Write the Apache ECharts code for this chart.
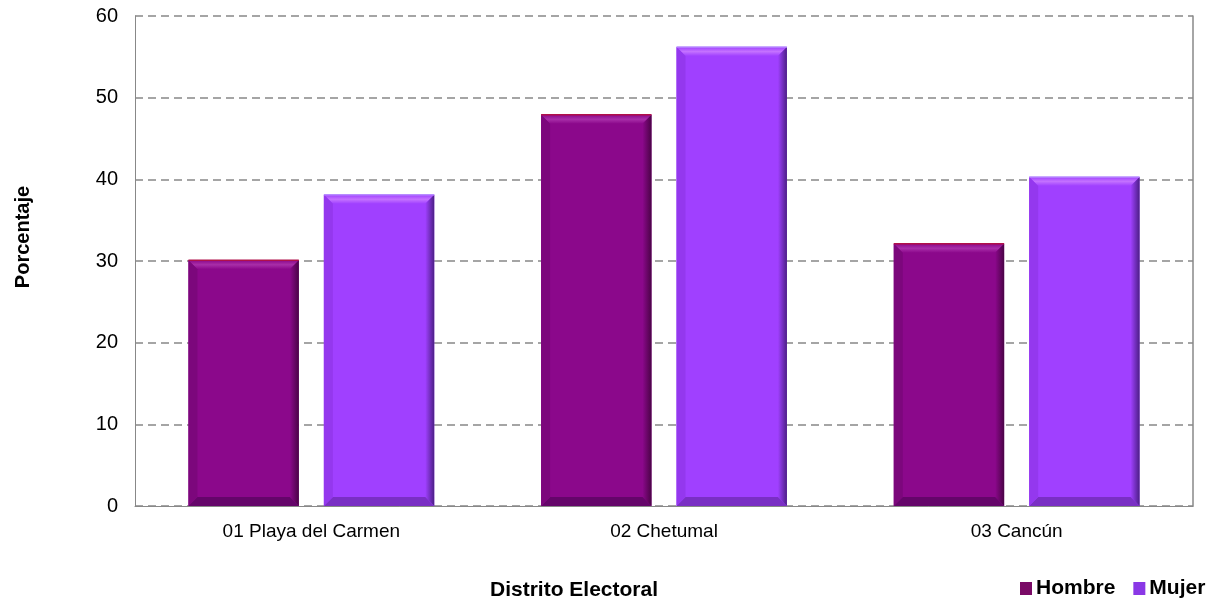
<!DOCTYPE html>
<html>
<head>
<meta charset="utf-8">
<script src="https://cdn.jsdelivr.net/npm/echarts@6/dist/echarts.min.js"></script>
<style>html,body{margin:0;padding:0;background:#fff}#c{width:1218px;height:603px}</style>
</head>
<body>
<div id="c"></div>
<script>
var categories = ['01 Playa del Carmen', '02 Chetumal', '03 Cancún'];
var hombre = [30.1, 47.9, 32.1];
var mujer = [38.1, 56.2, 40.3];
var seriesNames = ['Hombre', 'Mujer'];
var yAxisTitle = 'Porcentaje';
var xAxisTitle = 'Distrito Electoral';

var palettes = {
  Hombre: {face:'#8b088b', top:'#a82ea8', right:'#4a0346', bottom:'#65056a', left:'#7c077c', edge:'#b0104a'},
  Mujer:  {face:'#a040ff', top:'#c472ff', right:'#4c1f86', bottom:'#7a2fc4', left:'#9438ee', edge:'#b88cff'}
};

function makeRender(idx, pal){
  return function(params, api){
    var ci = api.value(0);
    var v = api.value(1);
    var base = api.coord([ci, 0]);
    var topP = api.coord([ci, v]);
    var band = api.size([1, 0])[0];
    var barW = band * 0.313;
    var gap = band * 0.071;
    var cx = base[0] + (idx === 0 ? -1 : 1) * (barW + gap) / 2;
    var x0 = cx - barW / 2, x1 = cx + barW / 2;
    var y0 = topP[1], y1 = base[1];
    var b = 9;
    return {
      type: 'group',
      children: [
        {type:'rect', shape:{x:x0, y:y0, width:barW, height:y1-y0}, style:{fill:pal.face}},
        {type:'polygon', shape:{points:[[x0,y0],[x1,y0],[x1-b,y0+b],[x0+b,y0+b]]}, style:{fill:new echarts.graphic.LinearGradient(0,0,0,1,[{offset:0,color:pal.face},{offset:0.5,color:pal.top},{offset:1,color:pal.face}])}},
        {type:'polygon', shape:{points:[[x1,y0],[x1,y1],[x1-b,y1-b],[x1-b,y0+b]]}, style:{fill:new echarts.graphic.LinearGradient(0,0,1,0,[{offset:0,color:pal.face},{offset:1,color:pal.right}])}},
        {type:'polygon', shape:{points:[[x0,y1],[x1,y1],[x1-b,y1-b],[x0+b,y1-b]]}, style:{fill:pal.bottom}},
        {type:'polygon', shape:{points:[[x0,y0],[x0+b,y0+b],[x0+b,y1-b],[x0,y1]]}, style:{fill:pal.left}},
        {type:'line', shape:{x1:x0, y1:y0, x2:x1, y2:y0}, style:{stroke:pal.edge, lineWidth:1.5}}
      ]
    };
  };
}

function toData(arr){ return arr.map(function(v,i){ return [i, v]; }); }

var FONT = 'Liberation Sans, Arial, sans-serif';
var chart = echarts.init(document.getElementById('c'), null, {renderer:'canvas'});
chart.setOption({
  animation: false,
  backgroundColor: '#fff',
  textStyle: {fontFamily: FONT},
  grid: {left: 135, right: 25, top: 16, bottom: 97, containLabel: false, outerBoundsMode: 'none'},
  legend: {
    data: seriesNames,
    left: 1020, top: 578, padding: 0,
    itemWidth: 12, itemHeight: 13, itemGap: 18,
    icon: 'rect',
    textStyle: {fontSize: 21, fontWeight: 'bold', color: '#000', fontFamily: FONT, padding:[0,0,0,-1]}
  },
  graphic: [
    {type:'text', position:[574,590], style:{text: xAxisTitle, font:'bold 21px ' + FONT, fill:'#000', textAlign:'center', textVerticalAlign:'middle'}},
    {type:'text', position:[23, 237], rotation: Math.PI/2, style:{text: yAxisTitle, font:'bold 20px ' + FONT, fill:'#000', textAlign:'center', textVerticalAlign:'middle'}}
  ],
  xAxis: {
    type: 'category',
    data: categories,
    axisLine: {lineStyle: {color: '#888', width: 1}},
    axisTick: {show: false},
    axisLabel: {fontSize: 19, color: '#000', margin: 16}
  },
  yAxis: [{
    type: 'value',
    min: 0, max: 60, interval: 10,
    axisLine: {show: true, lineStyle: {color: '#888', width: 1}},
    axisTick: {show: false},
    axisLabel: {fontSize: 20, color: '#000', margin: 17},
    splitLine: {lineStyle: {color: '#888', type: [8, 5], width: 1.5}}
  }, {
    type: 'value',
    position: 'right',
    min: 0, max: 60, interval: 10,
    axisLine: {show: true, lineStyle: {color: '#888', width: 1.5}},
    axisTick: {show: false},
    axisLabel: {show: false},
    splitLine: {show: false}
  }],
  series: [
    {name: 'Hombre', type: 'custom', renderItem: makeRender(0, palettes.Hombre), data: toData(hombre), itemStyle: {color: '#7a0a66'}, encode:{x:0,y:1}},
    {name: 'Mujer', type: 'custom', renderItem: makeRender(1, palettes.Mujer), data: toData(mujer), itemStyle: {color: '#8a38e6'}, encode:{x:0,y:1}}
  ]
});
</script>
</body>
</html>
